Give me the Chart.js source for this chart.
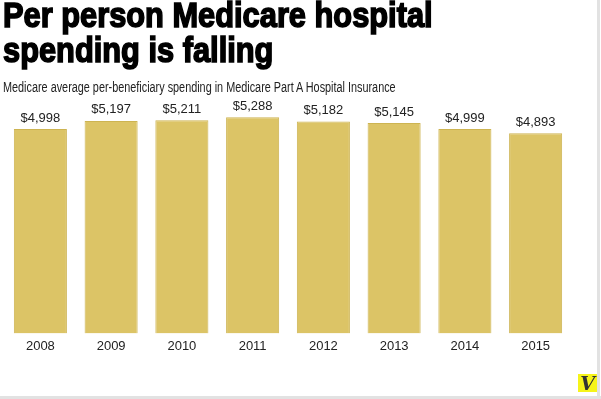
<!DOCTYPE html>
<html>
<head>
<meta charset="utf-8">
<script src="https://cdn.jsdelivr.net/npm/chart.js@4/dist/chart.umd.min.js"></script>
<style>
  html, body { margin: 0; padding: 0; background: #fff; }
  #wrap { position: relative; width: 601px; height: 399px; overflow: hidden; }
  #wrap canvas { position: absolute; left: 0; top: 0; }
  .title {
    position: absolute; left: 3px; top: -3px; margin: 0; white-space: nowrap;
    font-family: "Liberation Sans", Arial, sans-serif;
    font-weight: bold; font-size: 35px; line-height: 35px; color: #000;
    -webkit-text-stroke: 1.6px #000;
    transform: scaleX(0.88); transform-origin: 0 0;
  }
  .sub {
    position: absolute; left: 3px; top: 79px; margin: 0; white-space: nowrap;
    font-family: "Liberation Sans", Arial, sans-serif;
    font-size: 14px; color: #222;
    transform: scaleX(0.775); transform-origin: 0 0;
  }
  .logo {
    position: absolute; left: 578px; top: 374px; width: 19px; height: 18px;
    background: #f6f41a; color: #333; font: italic bold 19px "DejaVu Serif", serif;
    text-align: center; line-height: 19px;
  }
  .edge-r { position: absolute; left: 597px; top: 0; width: 3px; height: 399px; background: #e2e2e2; }
  .edge-b { position: absolute; left: 0; top: 396px; width: 601px; height: 3px; background: #e2e2e2; }
</style>
</head>
<body>
<div id="wrap">
  <canvas id="chart" width="601" height="399"></canvas>
  <div class="title">Per person Medicare hospital<br>spending is falling</div>
  <div class="sub">Medicare average per-beneficiary spending in Medicare Part A Hospital Insurance</div>
  <div class="logo">V</div>
  <div class="edge-r"></div>
  <div class="edge-b"></div>
</div>
<script>
// years and average spending per beneficiary (dollars)
const years = ['2008', '2009', '2010', '2011', '2012', '2013', '2014', '2015'];
const spending = [4998, 5197, 5211, 5288, 5182, 5145, 4999, 4893];

// dollar labels above each bar
const barLabels = {
  id: 'barLabels',
  afterDatasetsDraw(chart) {
    const ctx = chart.ctx;
    const meta = chart.getDatasetMeta(0);
    ctx.save();
    ctx.font = '13px "Liberation Sans", Arial, sans-serif';
    ctx.fillStyle = '#222';
    ctx.textAlign = 'center';
    ctx.textBaseline = 'middle';
    meta.data.forEach((bar, i) => {
      ctx.fillText('$' + spending[i].toLocaleString('en-US'), bar.x, bar.y - 11);
    });
    ctx.restore();
  }
};

const ctx = document.getElementById('chart').getContext('2d');
let chart = new Chart(ctx, {
  type: 'bar',
  data: {
    labels: years,
    datasets: [{
      data: spending,
      backgroundColor: '#dcc466',
      borderColor: '#cdb452',
      borderWidth: 1,
      categoryPercentage: 1,
      barPercentage: 0.75
    }]
  },
  options: {
    responsive: false,
    animation: false,
    layout: { padding: { left: 5, right: 30, top: 100, bottom: 48 } },
    scales: {
      x: {
        grid: { display: false },
        border: { display: false },
        ticks: { color: '#222', font: { family: '"Liberation Sans", Arial, sans-serif', size: 13 }, padding: -3 }
      },
      y: { display: false, min: 0, max: 5708 }
    },
    plugins: {
      legend: { display: false },
      tooltip: { enabled: false }
    }
  },
  plugins: [barLabels]
});
</script>
</body>
</html>
